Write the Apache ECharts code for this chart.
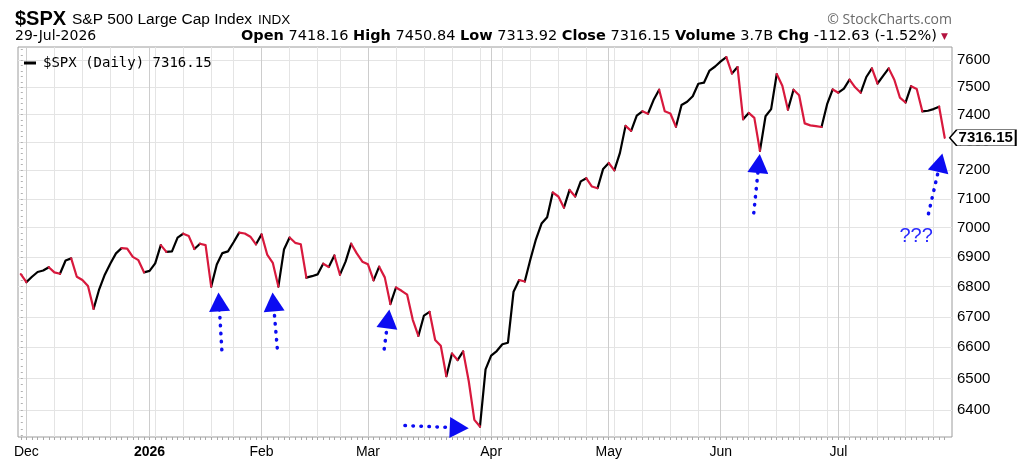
<!DOCTYPE html>
<html>
<head>
<meta charset="utf-8">
<script src="https://cdn.jsdelivr.net/npm/echarts@6/dist/echarts.min.js"></script>
<style>
html,body{margin:0;padding:0;background:#fff;}
#chart{width:1024px;height:472px;}
</style>
</head>
<body>
<div id="chart"></div>
<script>
// ---- data ----
const startDate = '2025-11-28';
const endDate = '2026-07-29';
const holidays = ['2025-12-25','2026-01-01','2026-01-19','2026-02-16','2026-04-03','2026-05-25','2026-06-19','2026-07-03'];
const monthLabels = {'2025-12':'Dec','2026-01':'2026','2026-02':'Feb','2026-03':'Mar','2026-04':'Apr','2026-05':'May','2026-06':'Jun','2026-07':'Jul'};
const closes = [
  6842,6815,6833,6849,6854,6865,6848,6843,6888,6895,
  6833,6822,6802,6726,6791,6840,6878,6912,6930,6928,
  6900,6889,6848,6853,6878,6940,6917,6919,6966,6979,
  6971,6927,6945,6940,6800,6874,6913,6919,6950,6983,
  6980,6969,6943,6977,6908,6880,6800,6925,6966,6948,
  6943,6830,6835,6841,6877,6866,6905,6840,6884,6945,
  6912,6884,6875,6821,6867,6831,6742,6797,6786,6773,
  6690,6637,6704,6716,6624,6605,6507,6580,6559,6587,
  6491,6369,6348,6529,6573,6588,6610,6615,6783,6822,
  6817,6891,6960,7014,7036,7122,7108,7069,7131,7108,
  7161,7172,7143,7137,7205,7226,7200,7262,7359,7341,
  7396,7412,7403,7453,7491,7412,7404,7356,7435,7447,
  7467,7513,7517,7562,7577,7596,7612,7551,7575,7383,
  7406,7388,7269,7394,7420,7549,7506,7418,7491,7471,
  7368,7361,7358,7355,7438,7492,7480,7495,7528,7500,
  7480,7538,7570,7514,7542,7570,7528,7462,7444,7504,
  7494,7412,7414,7420,7428.78,7316.15
];
const yTicks = [6400,6500,6600,6700,6800,6900,7000,7100,7200,7300,7400,7500,7600];
const yRange = [6315.5, 7650];
const xRange = [-0.5, 166.3];
// annotation arrows: [start [dayIndex, price], end [dayIndex, price]]
const arrows = [
  [[35.9,6592],[35.4,6749]],
  [[45.8,6598],[45.1,6749]],
  [[64.9,6595],[65.6,6693]],
  [[68.6,6351],[78.3,6344]],
  [[130.9,7051],[131.8,7224]],
  [[162.1,7048],[164.2,7227]]
];
const questionNote = [159.9, 6969];

// ---- build ----
const dates = [];
{
  let t = Date.parse(startDate + 'T00:00:00Z');
  const end = Date.parse(endDate + 'T00:00:00Z');
  while (t <= end) {
    const d = new Date(t);
    const wd = d.getUTCDay();
    const s = d.toISOString().slice(0,10);
    if (wd !== 0 && wd !== 6 && holidays.indexOf(s) < 0) dates.push(s);
    t += 86400000;
  }
}
const dayIdx = dates.map((d,i)=>i);
const weekStarts = [], monthStarts = [];
for (let i = 1; i < dates.length; i++) {
  const a = new Date(dates[i-1]+'T00:00:00Z').getUTCDay();
  const b = new Date(dates[i]+'T00:00:00Z').getUTCDay();
  if (b < a || (Date.parse(dates[i]) - Date.parse(dates[i-1])) > 3*86400000) weekStarts.push(i);
  if (dates[i].slice(0,7) !== dates[i-1].slice(0,7)) monthStarts.push(i);
}
const lv = closes.map(v => Math.log(v));
function buildSegs(up) {
  const out = [];
  let last = -5;
  for (let i = 1; i < closes.length; i++) {
    const isUp = closes[i] >= closes[i-1];
    if (isUp !== up) continue;
    if (last !== i-1) {
      if (out.length) out.push([i-1, '-']);
      out.push([i-1, lv[i-1]]);
    }
    out.push([i, lv[i]]);
    last = i;
  }
  return out;
}
const minorY = [];
for (let v = 6320; v <= 7640; v += 20) minorY.push(Math.log(v));
const lastIdx = closes.length - 1;
const lastClose = closes[lastIdx];
const prevClose = closes[lastIdx-1];

const FONT = '"Liberation Sans", Arial, sans-serif';
const BLUE = '#0c0cf2';
const RED = '#d8193d';

const chart = echarts.init(document.getElementById('chart'), null, {renderer:'canvas'});
const baseX = {type:'value', min:xRange[0], max:xRange[1], position:'bottom', offset:0,
  axisLine:{show:false}, axisLabel:{show:false}, splitLine:{show:false}};
const baseY = {type:'value', min:Math.log(yRange[0]), max:Math.log(yRange[1]), position:'right', offset:0,
  axisLine:{show:false}, axisLabel:{show:false}, splitLine:{show:false}, axisTick:{show:false}};

chart.setOption({
  animation:false,
  backgroundColor:'#fff',
  grid:{left:18, right:72, top:47, bottom:35, show:true, borderColor:'#9c9c9c', borderWidth:1,
        backgroundColor:'transparent', containLabel:false, outerBoundsMode:'none'},
  legend:{
    show:true, left:19, top:51, itemWidth:12, itemHeight:3, itemGap:6,
    icon:'rect', selectedMode:false,
    data:[{name:'$SPX (Daily) ' + lastClose.toFixed(2)}],
    textStyle:{fontFamily:'"DejaVu Sans Mono", monospace', fontSize:14, color:'#000', padding:[0,0,0,2]}
  },
  xAxis:[
    Object.assign({}, baseX, {
      axisTick:{show:true, length:3, lineStyle:{color:'#a8a8a8'}, customValues:dayIdx}
    }),
    Object.assign({}, baseX, {
      axisTick:{show:false, customValues:weekStarts},
      splitLine:{show:true, lineStyle:{color:'#e4e4e4', width:1}}
    }),
    Object.assign({}, baseX, {
      axisTick:{show:false, customValues:monthStarts},
      splitLine:{show:true, lineStyle:{color:'#cdcdcd', width:1}},
      axisLabel:{show:true, customValues:monthStarts, margin:8, color:'#000',
        fontFamily:FONT, fontSize:14,
        formatter:function(v){
          const d = dates[Math.round(v)];
          const lab = monthLabels[d.slice(0,7)] || '';
          return lab === '2026' ? '{b|' + lab + '}' : lab;
        },
        rich:{b:{fontWeight:'bold', fontFamily:FONT, fontSize:14, color:'#000'}}
      }
    })
  ],
  yAxis:[
    Object.assign({}, baseY, {
      axisTick:{show:false, customValues:yTicks.map(v=>Math.log(v))},
      splitLine:{show:true, lineStyle:{color:'#e4e4e4', width:1}},
      axisLabel:{show:true, customValues:yTicks.map(v=>Math.log(v)), margin:5, color:'#000',
        fontFamily:FONT, fontSize:15,
        formatter:function(v){ return String(Math.round(Math.exp(v))); }
      }
    }),
    Object.assign({}, baseY, {
      axisTick:{show:true, length:2, inside:false, lineStyle:{color:'#b0b0b0'}, customValues:minorY}
    })
  ],
  series:[
    {
      name:'$SPX (Daily) ' + lastClose.toFixed(2),
      type:'line', xAxisIndex:0, yAxisIndex:0,
      data:buildSegs(true), showSymbol:false, symbol:'none', connectNulls:false,
      color:'#000',
      lineStyle:{color:'#000', width:2.2, cap:'round', join:'round'},
      z:3, silent:true,
      markLine:{
        silent:true, animation:false, symbol:['none','triangle'], symbolSize:[21,19],
        lineStyle:{color:BLUE, width:3.5, type:[0.5,7.5], cap:'round'},
        itemStyle:{color:BLUE},
        label:{show:false}, emphasis:{disabled:true},
        data:arrows.map(a => [{coord:[a[0][0], Math.log(a[0][1])]}, {coord:[a[1][0], Math.log(a[1][1])]}])
      },
      markPoint:{
        silent:true, animation:false,
        data:[
          {coord:[lastIdx, lv[lastIdx]], symbol:'path://M0,8L7,0L66,0L66,16L7,16Z', symbolSize:[66,16],
           symbolOffset:[38,0], itemStyle:{color:'#fff', borderColor:'#000', borderWidth:1},
           label:{show:true, position:'inside', offset:[3,0], formatter:lastClose.toFixed(2), color:'#000',
             fontWeight:'bold', fontSize:15, fontFamily:FONT}},
          {coord:[questionNote[0], Math.log(questionNote[1])], symbol:'circle', symbolSize:1,
           itemStyle:{color:'rgba(0,0,0,0)'},
           label:{show:true, position:'inside', formatter:'???', color:'#2a2aff', fontSize:20, fontFamily:FONT}}
        ]
      }
    },
    {
      name:'down',
      type:'line', xAxisIndex:0, yAxisIndex:0,
      data:buildSegs(false), showSymbol:false, symbol:'none', connectNulls:false,
      color:RED,
      lineStyle:{color:RED, width:2.2, cap:'round', join:'round'},
      z:3, silent:true
    }
  ],
  graphic:[
    {type:'text', silent:true, style:{x:15, y:19, text:'$SPX', font:'bold 20px ' + FONT, fill:'#000', verticalAlign:'middle'}},
    {type:'text', silent:true, style:{x:72, y:20, text:'S&P 500 Large Cap Index', font:'15.5px ' + FONT, fill:'#000', verticalAlign:'middle'}},
    {type:'text', silent:true, style:{x:258, y:20.5, text:'INDX', font:'13.5px ' + FONT, fill:'#000', verticalAlign:'middle'}},
    {type:'text', silent:true, style:{x:15, y:36, text:'29-Jul-2026', font:'14px "DejaVu Sans", sans-serif', fill:'#000', verticalAlign:'middle'}},
    {type:'text', silent:true, style:{x:937, y:36, align:'right', verticalAlign:'middle',
      text:'{b|Open} 7418.16 {b|High} 7450.84 {b|Low} 7313.92 {b|Close} 7316.15 {b|Volume} 3.7B {b|Chg} ' +
           (lastClose - prevClose).toFixed(2) + ' (' + ((lastClose - prevClose) / prevClose * 100).toFixed(2) + '%)',
      font:'14.5px "DejaVu Sans", sans-serif', fill:'#000',
      rich:{b:{font:'bold 14.5px "DejaVu Sans", sans-serif', fill:'#000'}}}},
    {type:'text', silent:true, style:{x:941, y:37, text:'▼', font:'9px "DejaVu Sans", sans-serif', fill:'#b3123f', verticalAlign:'middle'}},
    {type:'text', silent:true, style:{x:952, y:20, align:'right', text:'© StockCharts.com', font:'14px "Open Sans", sans-serif', fill:'#6a6a6a', verticalAlign:'middle'}}
  ]
});
</script>
</body>
</html>
